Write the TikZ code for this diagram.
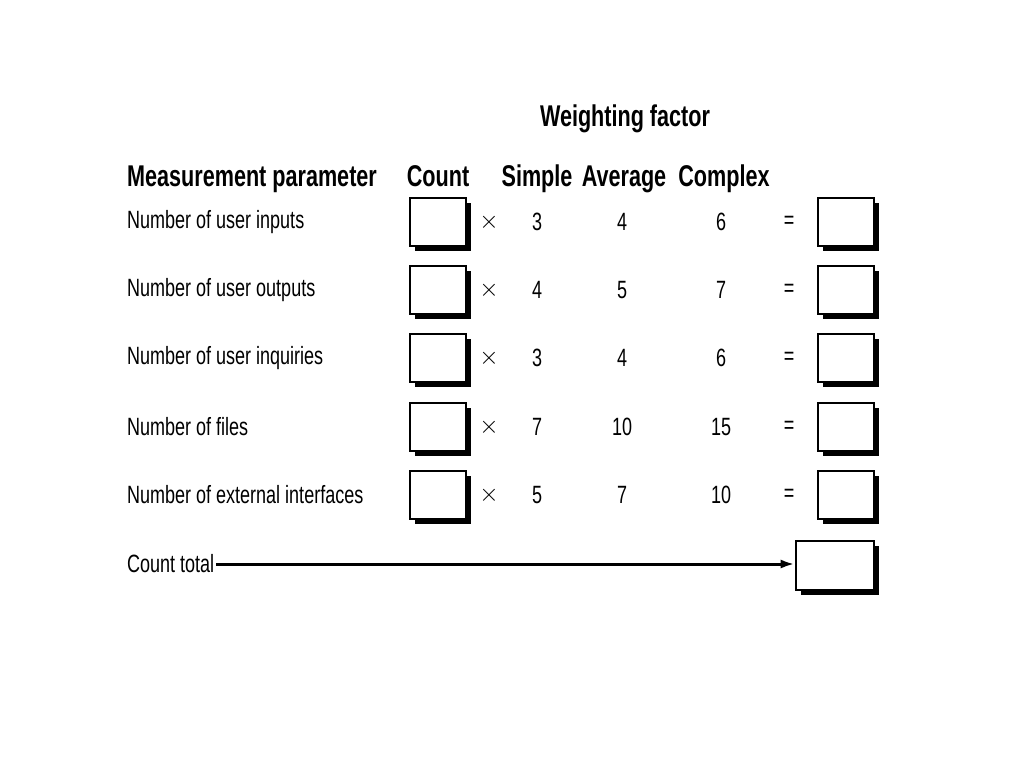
\documentclass[tikz,border=0pt]{standalone}
\usepackage{fontspec}
\setmainfont[FakeStretch=0.72]{Liberation Sans}
\usetikzlibrary{arrows.meta}
\begin{document}
\begin{tikzpicture}[x=1pt,y=-1pt,
  txt/.style={font=\fontsize{25}{28}\selectfont,inner sep=0},
  hd/.style={font=\fontsize{30}{33}\selectfont\bfseries,inner sep=0,anchor=base},
  bx/.style={draw,line width=2.6pt,fill=white,minimum width=56,minimum height=48,inner sep=0},
  wide/.style={bx,minimum width=78}]
\useasboundingbox (0,0) rectangle (1024,768);
\node[hd] (wf) at (625,126) {Weighting factor};
\node[hd,anchor=base west] (mp) at (127,186) {Measurement parameter};
\node[hd] (ch) at (438,186) {Count};
\node[hd] (sh) at (537,186) {Simple};
\node[hd] (ah) at (624,186) {Average};
\node[hd] (xh) at (724,186) {Complex};
\foreach \i/\y/\lab/\a/\b/\c in {1/222/Number of user inputs/3/4/6,2/290/Number of user outputs/4/5/7,3/358/Number of user inquiries/3/4/6,4/427/Number of files/7/10/15,5/495/Number of external interfaces/5/7/10}{
  \node[txt,anchor=west] (l\i) at (127,\y) {\lab};
  \fill[black] (415,\y-19) rectangle (471,\y+29);
  \node[bx] (c\i) at (438,\y) {};
  \node[txt] (m\i) at (489,\y) {$\times$};
  \node[txt] (s\i) at (537,\y) {\a};
  \node[txt] (a\i) at (622,\y) {\b};
  \node[txt] (x\i) at (721,\y) {\c};
  \node[txt] (e\i) at (789,\y) {=};
  \fill[black] (823,\y-19) rectangle (879,\y+29);
  \node[bx] (r\i) at (846,\y) {};
}
\node[txt,anchor=west] (ct) at (127,564) {Count total};
\fill[black] (801,546) rectangle (879,595);
\node[wide,minimum height=49] (tot) at (835,565.5) {};
\draw[line width=3pt,-{Latex[length=14pt,width=9pt]}] ([xshift=2pt]ct.east) -- (tot.west |- ct.east);
\end{tikzpicture}
\end{document}
